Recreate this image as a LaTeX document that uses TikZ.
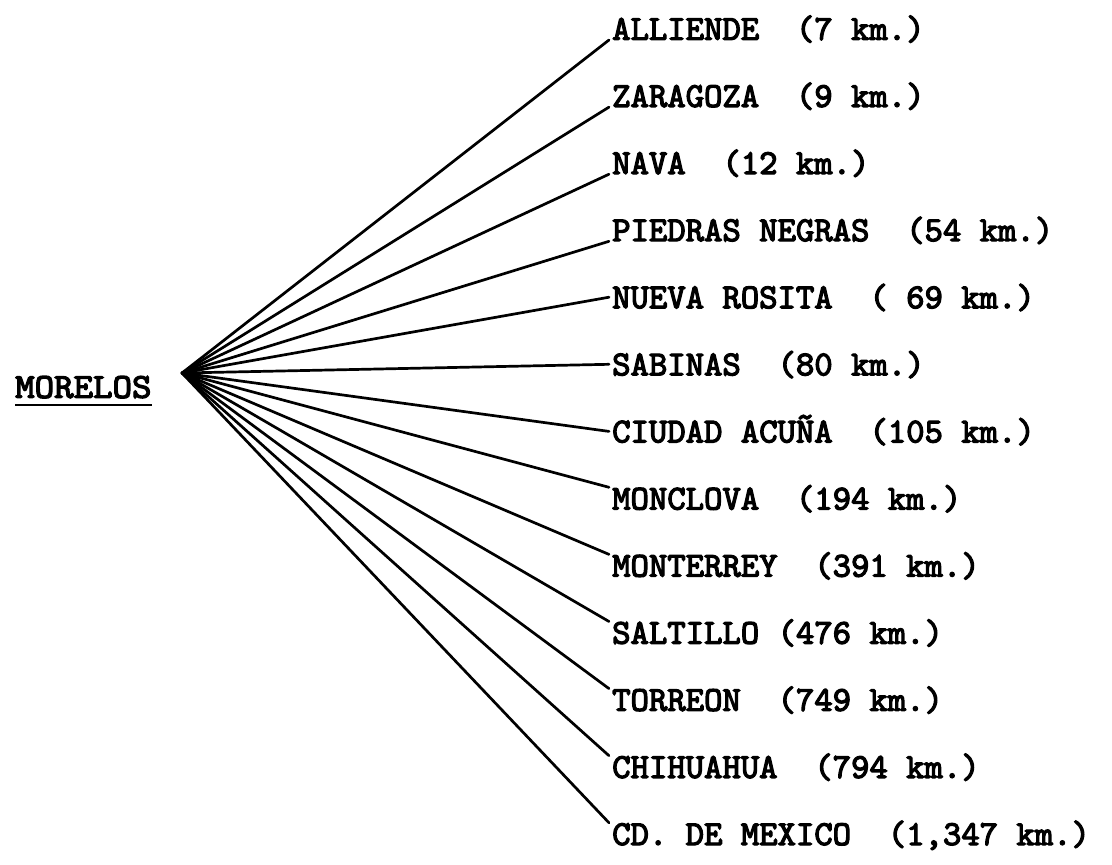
\documentclass[tikz,border=0pt]{standalone}
\usepackage{fontspec}
\newfontfamily\tw{lmmono10-regular.otf}[FakeBold=3.5]
\newcommand{\twtext}[1]{{\tw\bfseries #1}}
\tikzset{
  lab/.style={anchor=south west, inner sep=0pt, text height=22pt, text depth=0pt, font=\fontsize{35}{37}\selectfont},
  spoke/.style={line width=2.7pt, line cap=round},
}
\begin{document}
\begin{tikzpicture}[x=1pt, y=-1pt]
\useasboundingbox (0,0) rectangle (1112,865);
\coordinate (hub) at (182,373);
\node[lab, anchor=south west] (mor) at (15,398) {\scalebox{1.06}[1]{\twtext{MORELOS}}};
\draw[line width=2.4pt] ([yshift=-7pt]mor.south west) -- ([yshift=-7pt]mor.south east);
\foreach \i/\nm/\txt in {
  0/l0/{ALLIENDE~~(7 km.)},
  1/l1/{ZARAGOZA~~(9 km.)},
  2/l2/{NAVA~~(12 km.)},
  3/l3/{PIEDRAS NEGRAS~~(54 km.)},
  4/l4/{NUEVA ROSITA~~( 69 km.)},
  5/l5/{SABINAS~~(80 km.)},
  6/l6/{CIUDAD ACUÑA~~(105 km.)},
  7/l7/{MONCLOVA~~(194 km.)},
  8/l8/{MONTERREY~~(391 km.)},
  9/l9/{SALTILLO (476 km.)},
  10/l10/{TORREON~~(749 km.)},
  11/l11/{CHIHUAHUA~~(794 km.)},
  12/l12/{CD. DE MEXICO~~(1,347 km.)}}
{
  \node[lab] (\nm) at (612, 40+67.1*\i) {\twtext{\txt}};
}
\foreach \nm in {l0,l1,l2,l3}
  \draw[spoke] (hub) -- ([xshift=-3pt]\nm.south west);
\foreach \nm in {l4,l5,l6}
  \draw[spoke] (hub) -- ([xshift=-3pt]\nm.west);
\foreach \nm in {l7,l8,l9,l10,l11,l12}
  \draw[spoke] (hub) -- ([xshift=-3pt]\nm.north west);
\end{tikzpicture}
\end{document}
